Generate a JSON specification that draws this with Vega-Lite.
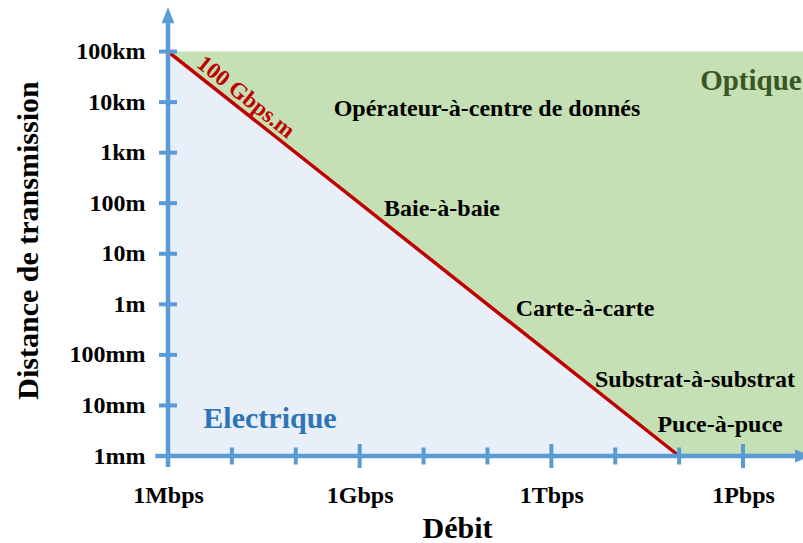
{
  "$schema": "https://vega.github.io/schema/vega-lite/v6.json",
  "width": 635,
  "height": 455,
  "autosize": {"type": "none"},
  "padding": {"left": 168, "top": 1, "right": 0, "bottom": 87},
  "background": "white",
  "config": {"view": {"stroke": null}, "font": "Liberation Serif"},
  "datasets": {
    "region": [{"debit": 1000000, "debit2": 8.69e15, "dist": 0.001, "dist2": 100000}],
    "limit": [{"debit": 1000000, "dist": 100000}, {"debit": 1e14, "dist": 0.001}],
    "yticks": [
      {"debit": 1000000, "dist": 0.001}, {"debit": 1000000, "dist": 0.01}, {"debit": 1000000, "dist": 0.1},
      {"debit": 1000000, "dist": 1}, {"debit": 1000000, "dist": 10}, {"debit": 1000000, "dist": 100},
      {"debit": 1000000, "dist": 1000}, {"debit": 1000000, "dist": 10000}, {"debit": 1000000, "dist": 100000}
    ],
    "xmajor": [{"debit": 1e9, "dist": 0.001}, {"debit": 1e12, "dist": 0.001}, {"debit": 1e15, "dist": 0.001}],
    "xminor": [
      {"debit": 1e7, "dist": 0.001}, {"debit": 1e8, "dist": 0.001}, {"debit": 1e10, "dist": 0.001},
      {"debit": 1e11, "dist": 0.001}, {"debit": 1e13, "dist": 0.001}, {"debit": 1e14, "dist": 0.001}
    ],
    "yaxis": [{"debit": 1000000, "dist": 0.000603, "dist2": 525000}],
    "xaxis": [{"debit": 631000, "debit2": 8.69e15, "dist": 0.001}],
    "uparrow": [{"debit": 1000000, "dist": 525000}],
    "rightarrow": [{"debit": 8.69e15, "dist": 0.001}],
    "notes": [
      {"debit": 9.84e10, "dist": 5310, "label": "Opérateur-à-centre de donnés"},
      {"debit": 1.945e10, "dist": 55.8, "label": "Baie-à-baie"},
      {"debit": 3.37e12, "dist": 0.587, "label": "Carte-à-carte"},
      {"debit": 1.77e14, "dist": 0.0232, "label": "Substrat-à-substrat"},
      {"debit": 4.37e14, "dist": 0.00299, "label": "Puce-à-puce"}
    ],
    "electrique": [{"debit": 3.95e7, "dist": 0.00358, "label": "Electrique"}],
    "optique": [{"debit": 1.33e15, "dist": 17340, "label": "Optique"}],
    "product": [{"debit": 1.66e7, "dist": 12590, "label": "100 Gbps.m"}]
  },
  "layer": [
    {
      "data": {"name": "region"},
      "mark": {"type": "rect", "color": "#c5e0b4"},
      "encoding": {
        "x": {
          "field": "debit", "type": "quantitative",
          "scale": {"type": "log", "domain": [1000000, 8.69e15], "nice": false},
          "axis": {
            "values": [1000000, 1e9, 1e12, 1e15],
            "labelExpr": "datum.value < 1e8 ? '1Mbps' : datum.value < 1e11 ? '1Gbps' : datum.value < 1e14 ? '1Tbps' : '1Pbps'",
            "domain": false, "ticks": false, "tickSize": 0, "grid": false,
            "labelFont": "Liberation Serif", "labelFontWeight": "bold", "labelFontSize": 24, "labelColor": "black",
            "labelBaseline": "alphabetic", "labelPadding": 46, "labelFlush": false, "labelOverlap": false,
            "title": "Débit", "titleFont": "Liberation Serif", "titleFontWeight": "bold", "titleFontSize": 30, "titleColor": "black",
            "titleX": 289, "titleY": 81, "titleBaseline": "alphabetic", "titleAlign": "center"
          }
        },
        "x2": {"field": "debit2"},
        "y": {
          "field": "dist", "type": "quantitative",
          "scale": {"type": "log", "domain": [0.001, 1000000], "nice": false},
          "axis": {
            "values": [0.001, 0.01, 0.1, 1, 10, 100, 1000, 10000, 100000],
            "labelExpr": "['1mm','10mm','100mm','1m','10m','100m','1km','10km','100km'][round(log(datum.value)/LN10)+3]",
            "domain": false, "ticks": false, "tickSize": 0, "grid": false,
            "labelFont": "Liberation Serif", "labelFontWeight": "bold", "labelFontSize": 24, "labelColor": "black",
            "labelPadding": 23, "labelFlush": false, "labelOverlap": false,
            "title": "Distance de transmission", "titleFont": "Liberation Serif", "titleFontWeight": "bold", "titleFontSize": 30, "titleColor": "black",
            "titleAngle": -90, "titleX": -131, "titleY": 239, "titleBaseline": "alphabetic", "titleAlign": "center"
          }
        },
        "y2": {"field": "dist2"}
      }
    },
    {
      "data": {"name": "limit"},
      "mark": {"type": "area", "color": "#e9eff8"},
      "encoding": {
        "x": {"field": "debit", "type": "quantitative"},
        "y": {"field": "dist", "type": "quantitative"},
        "y2": {"datum": 0.001}
      }
    },
    {
      "data": {"name": "limit"},
      "mark": {"type": "line", "color": "#c00000", "strokeWidth": 3.5},
      "encoding": {
        "x": {"field": "debit", "type": "quantitative"},
        "y": {"field": "dist", "type": "quantitative"}
      }
    },
    {
      "data": {"name": "yaxis"},
      "mark": {"type": "rule", "color": "#5b9bd5", "strokeWidth": 4.5},
      "encoding": {
        "x": {"field": "debit", "type": "quantitative"},
        "y": {"field": "dist", "type": "quantitative"},
        "y2": {"field": "dist2"}
      }
    },
    {
      "data": {"name": "xaxis"},
      "mark": {"type": "rule", "color": "#5b9bd5", "strokeWidth": 4.5},
      "encoding": {
        "x": {"field": "debit", "type": "quantitative"},
        "x2": {"field": "debit2"},
        "y": {"field": "dist", "type": "quantitative"}
      }
    },
    {
      "data": {"name": "yticks"},
      "mark": {"type": "tick", "color": "#5b9bd5", "orient": "horizontal", "thickness": 4, "opacity": 1},
      "encoding": {
        "x": {"field": "debit", "type": "quantitative"},
        "y": {"field": "dist", "type": "quantitative"},
        "size": {"value": 18}
      }
    },
    {
      "data": {"name": "xmajor"},
      "mark": {"type": "tick", "color": "#5b9bd5", "orient": "vertical", "thickness": 4, "opacity": 1},
      "encoding": {
        "x": {"field": "debit", "type": "quantitative"},
        "y": {"field": "dist", "type": "quantitative"},
        "size": {"value": 24}
      }
    },
    {
      "data": {"name": "xminor"},
      "mark": {"type": "tick", "color": "#5b9bd5", "orient": "vertical", "thickness": 4, "opacity": 1},
      "encoding": {
        "x": {"field": "debit", "type": "quantitative"},
        "y": {"field": "dist", "type": "quantitative"},
        "size": {"value": 17}
      }
    },
    {
      "data": {"name": "uparrow"},
      "mark": {"type": "point", "shape": "M0,-1L0.8,1L-0.8,1Z", "filled": true, "color": "#5b9bd5", "opacity": 1, "strokeWidth": 0},
      "encoding": {
        "x": {"field": "debit", "type": "quantitative"},
        "y": {"field": "dist", "type": "quantitative"},
        "size": {"value": 256}
      }
    },
    {
      "data": {"name": "rightarrow"},
      "mark": {"type": "point", "shape": "M1,0L-1,-0.8L-1,0.8Z", "filled": true, "color": "#5b9bd5", "opacity": 1, "strokeWidth": 0},
      "encoding": {
        "x": {"field": "debit", "type": "quantitative"},
        "y": {"field": "dist", "type": "quantitative"},
        "size": {"value": 256}
      }
    },
    {
      "data": {"name": "notes"},
      "mark": {"type": "text", "font": "Liberation Serif", "fontWeight": "bold", "fontSize": 24, "color": "black", "align": "center", "baseline": "alphabetic"},
      "encoding": {
        "x": {"field": "debit", "type": "quantitative"},
        "y": {"field": "dist", "type": "quantitative"},
        "text": {"field": "label"}
      }
    },
    {
      "data": {"name": "electrique"},
      "mark": {"type": "text", "font": "Liberation Serif", "fontWeight": "bold", "fontSize": 30, "color": "#2e75b6", "align": "center", "baseline": "alphabetic"},
      "encoding": {
        "x": {"field": "debit", "type": "quantitative"},
        "y": {"field": "dist", "type": "quantitative"},
        "text": {"field": "label"}
      }
    },
    {
      "data": {"name": "optique"},
      "mark": {"type": "text", "font": "Liberation Serif", "fontWeight": "bold", "fontSize": 29, "color": "#385723", "align": "center", "baseline": "alphabetic"},
      "encoding": {
        "x": {"field": "debit", "type": "quantitative"},
        "y": {"field": "dist", "type": "quantitative"},
        "text": {"field": "label"}
      }
    },
    {
      "data": {"name": "product"},
      "mark": {"type": "text", "font": "Liberation Serif", "fontWeight": "bold", "fontSize": 23, "color": "#c00000", "align": "center", "baseline": "middle", "angle": 38.5},
      "encoding": {
        "x": {"field": "debit", "type": "quantitative"},
        "y": {"field": "dist", "type": "quantitative"},
        "text": {"field": "label"}
      }
    }
  ]
}
